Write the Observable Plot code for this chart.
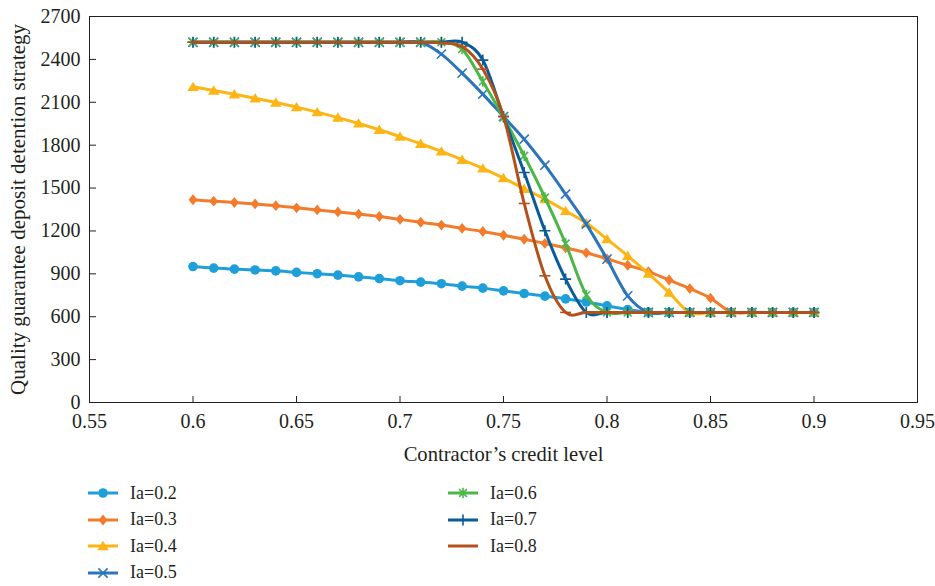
<!DOCTYPE html>
<html>
<head>
<meta charset="utf-8">
<script src="https://cdn.jsdelivr.net/npm/d3@7"></script>
<script src="https://cdn.jsdelivr.net/npm/@observablehq/plot@0.6"></script>
<style>
  body { margin: 0; background: #fff; font-family: "Liberation Serif", "Times New Roman", serif; }
  #chart svg { display: block; }
  #legend {
    display: grid;
    grid-template-columns: 360px 200px;
    grid-template-rows: repeat(4, 26.5px);
    grid-auto-flow: column;
    margin-left: 88px;
    margin-top: 10px;
  }
  .item { display: flex; align-items: center; font-size: 18px; color: #231f20; white-space: nowrap; }
  .item svg { margin-right: 12px; overflow: visible; }
</style>
</head>
<body>
<div id="chart"></div>
<div id="legend"></div>
<script>
// ---------------- data ----------------
const credit = [0.60, 0.61, 0.62, 0.63, 0.64, 0.65, 0.66, 0.67, 0.68, 0.69, 0.70,
                0.71, 0.72, 0.73, 0.74, 0.75, 0.76, 0.77, 0.78, 0.79, 0.80,
                0.81, 0.82, 0.83, 0.84, 0.85, 0.86, 0.87, 0.88, 0.89, 0.90];

const ia02 = [951, 940, 933, 927, 921, 910, 901, 891, 879, 867, 852, 842, 831, 814, 800,
              781, 762, 744, 725, 703, 676, 650, 632, 630, 630, 630, 630, 630, 630, 630, 630];
const ia03 = [1418, 1408, 1399, 1389, 1377, 1362, 1347, 1333, 1318, 1301, 1281, 1261, 1241, 1218, 1196,
              1170, 1142, 1113, 1082, 1047, 1005, 960, 916, 857, 797, 730, 633, 630, 630, 630, 630];
const ia04 = [2208, 2182, 2156, 2128, 2098, 2066, 2031, 1993, 1952, 1908, 1860, 1810, 1756, 1698, 1638,
              1570, 1495, 1423, 1340, 1255, 1143, 1026, 902, 769, 630, 630, 630, 630, 630, 630, 630];
const ia05 = [2520, 2520, 2520, 2520, 2520, 2520, 2520, 2520, 2520, 2520, 2520, 2520, 2437, 2304, 2157,
              2000, 1842, 1660, 1458, 1248, 1003, 746, 630, 630, 630, 630, 630, 630, 630, 630, 630];
const ia06 = [2520, 2520, 2520, 2520, 2520, 2520, 2520, 2520, 2520, 2520, 2520, 2520, 2520, 2472, 2245,
              1994, 1726, 1434, 1112, 753, 630, 630, 630, 630, 630, 630, 630, 630, 630, 630, 630];
const ia07 = [2520, 2520, 2520, 2520, 2520, 2520, 2520, 2520, 2520, 2520, 2520, 2520, 2520, 2520, 2395,
              2000, 1609, 1201, 863, 630, 630, 630, 630, 630, 630, 630, 630, 630, 630, 630, 630];
const ia08 = [2520, 2520, 2520, 2520, 2520, 2520, 2520, 2520, 2520, 2520, 2520, 2520, 2515, 2490, 2332,
              2000, 1392, 886, 630, 630, 630, 630, 630, 630, 630, 630, 630, 630, 630, 630, 630];

const seriesLabels = ["Ia=0.2", "Ia=0.3", "Ia=0.4", "Ia=0.5", "Ia=0.6", "Ia=0.7", "Ia=0.8"];
const seriesValues = [ia02, ia03, ia04, ia05, ia06, ia07, ia08];

const xTicks = [0.55, 0.6, 0.65, 0.7, 0.75, 0.8, 0.85, 0.9, 0.95];
const yTicks = [0, 300, 600, 900, 1200, 1500, 1800, 2100, 2400, 2700];

const xLabel = "Contractor’s credit level";
const yLabel = "Quality guarantee deposit detention strategy";

// ---------------- styles ----------------
const mk = (f) => ({ draw(ctx, size) { const r = Math.sqrt(size / Math.PI); f(ctx, r); } });
const symDiamond = mk((c, r) => { c.moveTo(0, -r * 1.15); c.lineTo(r * 0.95, 0); c.lineTo(0, r * 1.15); c.lineTo(-r * 0.95, 0); c.closePath(); });
const symTriangle = mk((c, r) => { c.moveTo(0, -r); c.lineTo(r * 1.1, r * 0.8); c.lineTo(-r * 1.1, r * 0.8); c.closePath(); });
const symTimes = mk((c, r) => { c.moveTo(-r, -r); c.lineTo(r, r); c.moveTo(-r, r); c.lineTo(r, -r); });
const symStar = mk((c, r) => { const d = r * 0.75; c.moveTo(-d, -d); c.lineTo(d, d); c.moveTo(-d, d); c.lineTo(d, -d); c.moveTo(0, -r); c.lineTo(0, r); });
const symPlus = mk((c, r) => { c.moveTo(-r, 0); c.lineTo(r, 0); c.moveTo(0, -r); c.lineTo(0, r); });
const symDash = mk((c, r) => { c.moveTo(-r, 0); c.lineTo(r, 0); });

const styles = [
  { color: "#1f9fda", symbol: "circle", filled: true, r: 4.8 },
  { color: "#f27b2c", symbol: symDiamond, filled: true, r: 4.7 },
  { color: "#fdb515", symbol: symTriangle, filled: true, r: 5.2 },
  { color: "#2b76bb", symbol: symTimes, filled: false, r: 4.6 },
  { color: "#4bb748", symbol: symStar, filled: false, r: 5.2 },
  { color: "#0a5c98", symbol: symPlus, filled: false, r: 5.5 },
  { color: "#b3511c", symbol: symDash, filled: false, r: 5.5 }
];

// ---------------- marks ----------------
const seriesMarks = [];
seriesLabels.forEach((label, k) => {
  const rows = credit.map((c, i) => ({ x: c, y: seriesValues[k][i], series: label }));
  const st = styles[k];
  seriesMarks.push(Plot.line(rows, { x: "x", y: "y", stroke: st.color, strokeWidth: 3, curve: "cardinal", tension: 0 }));
  seriesMarks.push(Plot.dot(rows, st.filled
    ? { x: "x", y: "y", r: st.r, symbol: st.symbol, fill: st.color, stroke: "none" }
    : { x: "x", y: "y", r: st.r, symbol: st.symbol, fill: "none", stroke: st.color, strokeWidth: 1.6 }));
});

const chart = Plot.plot({
  width: 935,
  height: 470,
  marginLeft: 89,
  marginRight: 18,
  marginTop: 16,
  marginBottom: 68,
  style: { fontFamily: "Liberation Serif, Times New Roman, serif", fontSize: "20px", color: "#231f20", background: "white", overflow: "visible" },
  x: { domain: [0.55, 0.95] },
  y: { domain: [0, 2700] },
  marks: [
    ...seriesMarks,
    Plot.axisX({ ticks: xTicks, tickSize: 0, tickPadding: 11, tickFormat: (d) => String(+d.toFixed(2)), label: null }),
    Plot.axisX({ ticks: [], tickSize: 0, label: xLabel, labelAnchor: "center", labelOffset: 58, labelArrow: "none", fontSize: 20.6 }),
    Plot.axisX({ ticks: xTicks, tickSize: 6, tickFormat: () => "", label: null, dy: -6 }),
    Plot.axisY({ ticks: yTicks, tickSize: 0, tickPadding: 9, tickFormat: (d) => String(d), label: null }),
    Plot.axisY({ ticks: [], tickSize: 0, label: yLabel, labelAnchor: "center", labelOffset: 79, labelArrow: "none", fontSize: 21 }),
    Plot.axisY({ ticks: yTicks, tickSize: 7, tickFormat: () => "", label: null, dx: 7 }),
    Plot.frame({ stroke: "#231f20" })
  ]
});
document.getElementById("chart").appendChild(chart);

// ---------------- legend ----------------
const legend = d3.select("#legend");
seriesLabels.forEach((label, k) => {
  const st = styles[k];
  const item = legend.append("div").attr("class", "item");
  const svg = item.append("svg").attr("width", 30).attr("height", 14);
  svg.append("line").attr("x1", 0).attr("x2", 30).attr("y1", 7).attr("y2", 7)
    .attr("stroke", st.color).attr("stroke-width", 3);
  const symObj = typeof st.symbol === "string" ? d3.symbolCircle : st.symbol;
  const size = Math.PI * st.r * st.r;
  svg.append("path").attr("transform", "translate(15,7)")
    .attr("d", d3.symbol(symObj, size)())
    .attr("fill", st.filled ? st.color : "none")
    .attr("stroke", st.filled ? "none" : st.color)
    .attr("stroke-width", 1.6);
  item.append("span").text(label);
});
</script>
</body>
</html>
